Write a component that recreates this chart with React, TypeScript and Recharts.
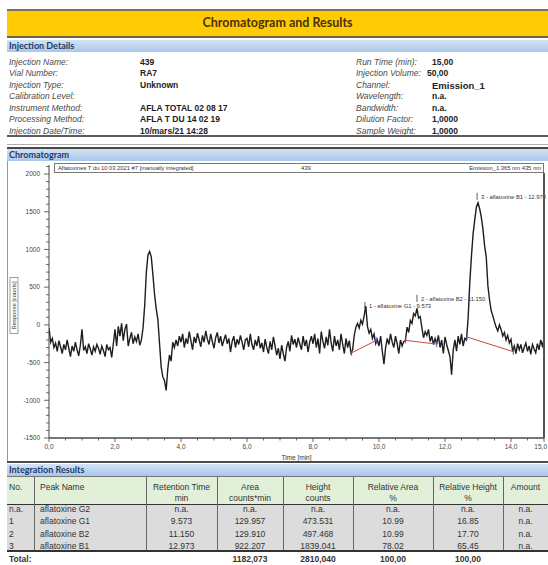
import React from "react"
import { ComposedChart, Line, XAxis, YAxis, ReferenceDot } from "recharts"

// detector sampling interval [min]
const sampleStep = 0.05

// response [counts], one value every 0.05 min
const trace0000 = [
  -40, -230, -180, -300, -240, -350, -210, -290, -380, -260,
  -330, -200, -310, -420, -280, -350, -230, -330, -410, -270,
  -60, -340, -290, -380, -250, -320, -400, -290, -350, -260,
  -310, -390, -280, -340, -420, -260, -330, -300, -430, -250,
]
const trace0200 = [-60, -280, -20, -150, 20, -210, -60, 10, -280, -180, -100, -250, -160, -220, -120, -270]
const trace0280 = [
  -200, -40, 260, 700, 930, 975, 900, 660, 400, 210, 70,
  -250, -560, -690, -740, -870, -580, -400, -480, -230, -300, -200,
]
const trace0390 = [
  -280, -150, -230, -120, -300, -180, -250, -90, -210, -330,
  -160, -240, -110, -200, -290, -140, -230, -80, -190, -260,
  -120, -220, -310, -170, -100, -240, -150, -280, -200, -130,
  -250, -180, -360, -220, -150, -300, -190, -260, -140, -230,
  -330, -200,
]
const trace0600 = [
  -180, -290, -120, -260, -330, -200, -280, -150, -310, -240,
  -360, -190, -300, -380, -220, -330, -160, -280, -400, -310,
  -450, -270, -380, -480, -300, -220, -350, -140, -260, -190,
  -300, -170, -250, -330, -150, -280, -200, -360, -230, -150,
]
const trace0800 = [
  -250, -120, -300, -180, -380, -90, -220, -310, -160, -270,
  -60, -240, -350, -150, -280, -200, -330, -120, -260, -380,
  -180, -300, -210, -370,
]
const trace0920 = [-330, -140, -30, 20, -40, 60, 10, 120, 250, -20, -110, -60, -180, -120, -250, -200]
const trace1000 = [-280, -150, -350, -520, -300, -180, -260, -120, -230, -300, -150, -250, -380, -200, -280, -220]
const trace1080 = [-210, -30, -100, 60, 20, 150, 120, 220, 90, 110, -40, -170, -90, -140, -60, -220, -150, -260, -180, -250]
const trace1180 = [-140, -300, -200, -380, -160, -260, -340, -420, -660, -330, -200, -350, -150, -260, -120, -280, -180]
const trace1265 = [
  -200, 80, 550, 900, 1200, 1390, 1560, 1620, 1540, 1430, 1270, 1050, 900, 520, 330,
  190, 120, 40, -30, -80, 0, -60, -150, -100, -200, -140, -240, -190, -350,
]
const trace1410 = [-280, -380, -250, -330, -260, -370, -300, -240, -350, -280, -390, -260, -320, -370, -250, -330, -200, -280, -190]

const trace = [
  ...trace0000, ...trace0200, ...trace0280, ...trace0390, ...trace0600, ...trace0800,
  ...trace0920, ...trace1000, ...trace1080, ...trace1180, ...trace1265, ...trace1410,
]
const tracePoints = trace.map((v, i) => ({ t: Math.round(i * sampleStep * 100) / 100, v }))

// manual integration baselines
const baseFromT = [9.17, 10.8, 12.66]
const baseFromV = [-370, -205, -160]
const baseToT = [9.93, 11.75, 14.07]
const baseToV = [-204, -255, -355]

// peak annotations
const peakTimes = [9.573, 11.15, 12.973]
const peakLabelLevels = [252, 345, 1698]
const peakLabels = ["1 - aflatoxine G1 - 9.573", "2 - aflatoxine B2 - 11.150", "3 - aflatoxine B1 - 12.973"]

const yTicks = [
  -1500, -1400, -1300, -1200, -1100, -1000, -900, -800, -700, -600, -500, -400, -300, -200, -100, 0,
  100, 200, 300, 400, 500, 600, 700, 800, 900, 1000, 1100, 1200, 1300, 1400, 1500, 1600, 1700, 1800,
  1900, 2000, 2100,
]
const xTicks = [
  0, 0.5, 1, 1.5, 2, 2.5, 3, 3.5, 4, 4.5, 5, 5.5, 6, 6.5, 7, 7.5, 8, 8.5, 9, 9.5, 10, 10.5, 11, 11.5,
  12, 12.5, 13, 13.5, 14, 14.5, 15,
]

// injection details
const leftLabels = ["Injection Name:", "Vial Number:", "Injection Type:", "Calibration Level:", "Instrument Method:", "Processing Method:", "Injection Date/Time:"]
const leftValues = ["439", "RA7", "Unknown", "", "AFLA TOTAL 02 08 17", "AFLA T DU 14 02 19", "10/mars/21 14:28"]
const rightLabels = ["Run Time (min):", "Injection Volume:", "Channel:", "Wavelength:", "Bandwidth:", "Dilution Factor:", "Sample Weight:"]
const rightValues = ["15,00", "50,00", "Emission_1", "n.a.", "n.a.", "1,0000", "1,0000"]

// integration results
const peakNo = ["n.a.", "1", "2", "3"]
const peakName = ["aflatoxine G2", "aflatoxine G1", "aflatoxine B2", "aflatoxine B1"]
const retTimes = ["n.a.", "9.573", "11.150", "12.973"]
const areas = ["n.a.", "129.957", "129.910", "922.207"]
const heights = ["n.a.", "473.531", "497.468", "1839.041"]
const relAreas = ["n.a.", "10.99", "10.99", "78.02"]
const relHeights = ["n.a.", "16.85", "17.70", "65.45"]
const amounts = ["n.a.", "n.a.", "n.a.", "n.a."]
const totals = ["", "", "", "1182,073", "2810,040", "100,00", "100,00", ""]
const headTop = ["No.", "Peak Name", "Retention Time", "Area", "Height", "Relative Area", "Relative Height", "Amount"]
const headBottom = ["", "", "min", "counts*min", "counts", "%", "%", ""]

const colEdges = [7, 34, 146, 217, 283, 353, 433, 503, 548]

const sectionFont = "Lato, 'Open Sans', sans-serif"
const bodyFont = "'Liberation Sans', Arial, sans-serif"

function SectionBar({ top, title }: { top: number; title: string }) {
  return (
    <div
      style={{
        position: "absolute",
        left: 7,
        top,
        width: 541,
        height: 12,
        background: "linear-gradient(#d3e3f5, #a9c7ea)",
        color: "#1d3a66",
        fontFamily: sectionFont,
        fontWeight: 700,
        fontSize: 9,
        lineHeight: "12px",
        paddingLeft: 2,
        boxSizing: "border-box",
      }}
    >
      {title}
    </div>
  )
}

function HLine({ top, h, color }: { top: number; h: number; color: string }) {
  return <div style={{ position: "absolute", left: 7, top, width: 541, height: h, background: color }} />
}

function Cell({ col, top, text, bold, left }: { col: number; top: number; text: string; bold?: boolean; left?: boolean }) {
  const x0 = colEdges[col]
  const x1 = colEdges[col + 1]
  return (
    <div
      style={{
        position: "absolute",
        left: x0,
        top,
        width: x1 - x0,
        height: 11,
        lineHeight: "11px",
        fontSize: 8.5,
        fontWeight: bold ? 700 : 400,
        color: "#333",
        textAlign: left ? "left" : "center",
        paddingLeft: left ? (col === 0 ? 2 : 6) : 0,
        boxSizing: "border-box",
        overflow: "hidden",
        whiteSpace: "nowrap",
      }}
    >
      {text}
    </div>
  )
}

function YTick(props: any) {
  const { x, y, payload } = props
  const major = payload.value % 500 === 0
  return (
    <g>
      <line x1={x - (major ? 5 : 3)} x2={x} y1={y} y2={y} stroke="#444" strokeWidth={0.8} />
      {major && (
        <text x={x - 9} y={y} dy={2.3} textAnchor="end" fontSize={6.5} fill="#444" fontFamily={bodyFont}>
          {payload.value}
        </text>
      )}
    </g>
  )
}

function XTick(props: any) {
  const { x, y, payload } = props
  const v = payload.value
  const major = v % 2 === 0 || v === 15
  const last = v === 15
  return (
    <g>
      <line x1={x} x2={x} y1={y} y2={y + (major ? 4 : 2.5)} stroke="#444" strokeWidth={0.8} />
      {major && (
        <text
          x={last ? x + 3 : x}
          y={y + 11}
          textAnchor={last ? "end" : "middle"}
          fontSize={6.5}
          fill="#444"
          fontFamily={bodyFont}
        >
          {v.toFixed(1).replace(".", ",")}
        </text>
      )}
    </g>
  )
}

function YLabel(props: any) {
  const vb = props.viewBox || { x: 8, y: 4, width: 41, height: 273 }
  const cx = vb.x + 6
  const cy = vb.y + vb.height / 2 + 4
  return (
    <g>
      <rect x={cx - 4} y={cy - 28} width={8} height={56} fill="none" stroke="#777" strokeWidth={0.7} />
      <text
        x={cx}
        y={cy}
        dy={2}
        transform={`rotate(-90 ${cx} ${cy})`}
        textAnchor="middle"
        fontSize={5.8}
        fill="#333"
        fontFamily={bodyFont}
      >
        Response [counts]
      </text>
    </g>
  )
}

function peakMark(text: string) {
  return (p: any) => (
    <g>
      <line x1={p.cx} x2={p.cx} y1={p.cy - 4} y2={p.cy + 3} stroke="#333" strokeWidth={0.8} />
      <text x={p.cx + 4} y={p.cy} dy={2} fontSize={5.8} fill="#333" fontFamily={bodyFont}>
        {text}
      </text>
    </g>
  )
}

function baseEnd(p: any) {
  return <line key={`${p.cx}-${p.cy}`} x1={p.cx} x2={p.cx} y1={p.cy - 3} y2={p.cy + 3} stroke="#5050b0" strokeWidth={1} />
}

function Chromatogram() {
  return (
    <ComposedChart width={548} height={300} margin={{ top: 4, right: 4, bottom: 0, left: 8 }}>
      <XAxis
        type="number"
        dataKey="t"
        domain={[0, 15]}
        ticks={xTicks}
        interval={0}
        tick={XTick}
        tickLine={false}
        tickSize={0}
        tickMargin={0}
        height={23}
        axisLine={{ stroke: "#777", strokeWidth: 2 }}
        allowDataOverflow
        label={{ value: "Time [min]", position: "insideBottom", offset: 1, fontSize: 6.5, fill: "#333" }}
      />
      <YAxis
        type="number"
        domain={[-1500, 2120]}
        ticks={yTicks}
        interval={0}
        tick={YTick}
        tickLine={false}
        tickSize={0}
        tickMargin={0}
        width={41}
        axisLine={{ stroke: "#444", strokeWidth: 1 }}
        allowDataOverflow
        label={{ position: "insideLeft", content: YLabel }}
      />
      <Line
        data={tracePoints}
        dataKey="v"
        type="linear"
        stroke="#1e1e1e"
        strokeWidth={1.4}
        dot={false}
        isAnimationActive={false}
      />
      {baseFromT.map((t, i) => (
        <Line
          key={`base-${i}`}
          data={[
            { t, v: baseFromV[i] },
            { t: baseToT[i], v: baseToV[i] },
          ]}
          dataKey="v"
          type="linear"
          stroke="#d04545"
          strokeWidth={1}
          dot={baseEnd}
          isAnimationActive={false}
        />
      ))}
      {peakTimes.map((t, i) => (
        <ReferenceDot key={`peak-${i}`} x={t} y={peakLabelLevels[i]} r={0} ifOverflow="visible" shape={peakMark(peakLabels[i])} />
      ))}
    </ComposedChart>
  )
}

export default function App() {
  const rowTop = (i: number) => 56.5 + i * 11.5
  const dataTops = [503.5, 516, 528.5, 541]
  const columns = [peakNo, peakName, retTimes, areas, heights, relAreas, relHeights, amounts]
  return (
    <div
      style={{
        position: "absolute",
        left: 0,
        top: 0,
        width: 548,
        height: 565,
        overflow: "hidden",
        background: "#fff",
        fontFamily: bodyFont,
      }}
    >
      {/* title bar */}
      <div
        style={{
          position: "absolute",
          left: 7,
          top: 9,
          width: 541,
          height: 29,
          boxSizing: "border-box",
          background: "#ffcb05",
          borderTop: "2px solid #7d7350",
          borderBottom: "2px solid #6e6548",
          textAlign: "center",
          fontFamily: sectionFont,
          fontWeight: 700,
          fontSize: 12.5,
          lineHeight: "24px",
          color: "#4a3208",
        }}
      >
        Chromatogram and Results
      </div>

      <SectionBar top={40} title="Injection Details" />
      {leftLabels.map((l, i) => (
        <React.Fragment key={l}>
          <div style={{ position: "absolute", left: 9, top: rowTop(i), fontSize: 8.5, lineHeight: "11px", fontStyle: "italic", color: "#4a4a4a" }}>{l}</div>
          <div style={{ position: "absolute", left: 140, top: rowTop(i), fontSize: 8.5, lineHeight: "11px", fontWeight: 700, color: "#222" }}>{leftValues[i]}</div>
        </React.Fragment>
      ))}
      {rightLabels.map((l, i) => (
        <React.Fragment key={l}>
          <div style={{ position: "absolute", left: 356, top: rowTop(i), fontSize: 8.5, lineHeight: "11px", fontStyle: "italic", color: "#4a4a4a" }}>{l}</div>
          <div
            style={{
              position: "absolute",
              left: i === 1 ? 427 : 432,
              top: rowTop(i),
              fontSize: i === 2 ? 9.5 : 8.5,
              lineHeight: "11px",
              fontWeight: 700,
              color: "#222",
            }}
          >
            {rightValues[i]}
          </div>
        </React.Fragment>
      ))}
      <HLine top={135} h={2} color="#5c5c5c" />
      <HLine top={144} h={1} color="#b0b0b0" />
      <HLine top={147} h={2} color="#4a4a4a" />
      <SectionBar top={149} title="Chromatogram" />

      {/* chromatogram */}
      <div style={{ position: "absolute", left: 7, top: 161, width: 1, height: 301, background: "#999" }} />
      <div style={{ position: "absolute", left: 0, top: 161 }}>
        <Chromatogram />
      </div>
      <div
        style={{
          position: "absolute",
          left: 54,
          top: 163,
          width: 490,
          height: 10,
          boxSizing: "border-box",
          border: "1px solid #777",
          background: "#fff",
          fontSize: 5.8,
          lineHeight: "8px",
          color: "#333",
          whiteSpace: "nowrap",
        }}
      >
        <span style={{ position: "absolute", left: 3 }}>Aflatoxines T du 10 03 2021 #7 [manually integrated]</span>
        <span style={{ position: "absolute", left: 246 }}>439</span>
        <span style={{ position: "absolute", right: 2 }}>Emission_1  365 nm  435 nm</span>
      </div>
      <div style={{ position: "absolute", left: 543, top: 173, width: 1.5, height: 265, background: "#555" }} />

      <HLine top={461} h={2} color="#4a4a4a" />
      <SectionBar top={464} title="Integration Results" />

      {/* results table */}
      <div style={{ position: "absolute", left: 7, top: 477, width: 541, height: 27, background: "#e2f0d9" }} />
      <div style={{ position: "absolute", left: 7, top: 505, width: 541, height: 45, background: "#dcdcdc" }} />
      <HLine top={476} h={1} color="#777" />
      <HLine top={503.5} h={1.5} color="#333" />
      <HLine top={550} h={1.5} color="#333" />
      {colEdges.slice(1, -1).map((x) => (
        <div key={x} style={{ position: "absolute", left: x, top: 477, width: 1, height: 73, background: "#666" }} />
      ))}
      {headTop.map((h, c) => (
        <Cell key={`h1-${c}`} col={c} top={482} text={h} left={c < 2} />
      ))}
      {headBottom.map((h, c) => (
        <Cell key={`h2-${c}`} col={c} top={493} text={h} />
      ))}
      {dataTops.map((top, r) =>
        columns.map((col, c) => <Cell key={`d-${r}-${c}`} col={c} top={top} text={col[r]} left={c < 2} />)
      )}
      <Cell col={0} top={553.5} text="Total:" bold left />
      {totals.map((t, c) => (t ? <Cell key={`t-${c}`} col={c} top={553.5} text={t} bold /> : null))}
    </div>
  )
}
